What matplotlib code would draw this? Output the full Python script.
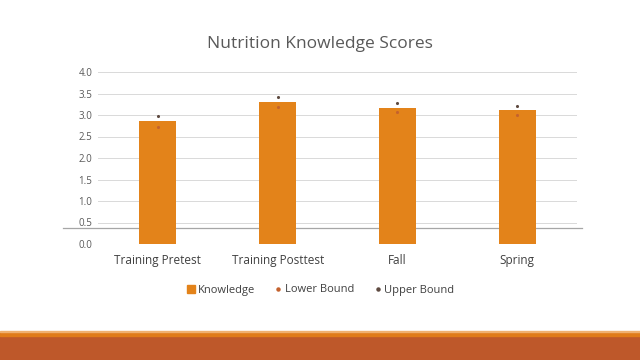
import matplotlib
matplotlib.use("Agg")
import matplotlib.pyplot as plt
from matplotlib.lines import Line2D
from matplotlib.patches import Rectangle

categories = ["Training Pretest", "Training Posttest", "Fall", "Spring"]
knowledge = [2.85, 3.31, 3.17, 3.12]
lower_bound = [2.73, 3.19, 3.06, 3.01]
upper_bound = [2.97, 3.41, 3.27, 3.22]
yticks = [0.0, 0.5, 1.0, 1.5, 2.0, 2.5, 3.0, 3.5, 4.0]

plt.rcParams['font.family'] = ['Open Sans', 'DejaVu Sans']

fig = plt.figure(figsize=(6.4, 3.6), dpi=100)
ax = fig.add_axes([98/640, 1-244/360, (577-98)/640, (244-72)/360])
ax.patch.set_visible(False)
ax.set_zorder(2)

x = list(range(len(categories)))
bar_color = '#E3831A'
ax.bar(x, knowledge, width=0.31, color=bar_color, zorder=2)
ax.scatter(x, lower_bound, s=5, color='#C4622D', zorder=3, linewidths=0)
ax.scatter(x, upper_bound, s=5, color='#5E4A40', zorder=3, linewidths=0)

ax.set_xlim(-0.5, 3.5)
ax.set_ylim(0, 4.0)
ax.set_yticks(yticks)
ax.set_yticklabels([f"{v:.1f}" for v in yticks], fontsize=7, color='#595959')
ax.set_xticks(x)
ax.set_xticklabels(categories, fontsize=8.5, color='#404040')
ax.tick_params(axis='both', length=0, pad=4)
ax.tick_params(axis='x', pad=7)
ax.grid(axis='y', color='#D9D9D9', linewidth=0.7, zorder=0)
for s in ax.spines.values():
    s.set_visible(False)

fig.text(0.5, 1-44/360, "Nutrition Knowledge Scores", ha='center', va='center',
         fontsize=12.5, color='#595959')

handles = [
    Line2D([], [], marker='s', linestyle='none', markersize=6, color=bar_color),
    Line2D([], [], marker='o', linestyle='none', markersize=2.2, color='#C4622D'),
    Line2D([], [], marker='o', linestyle='none', markersize=2.2, color='#5E4A40'),
]
fig.legend(handles, ["Knowledge", "Lower Bound", "Upper Bound"], loc='center',
           bbox_to_anchor=(0.5, 1-290/360), ncol=3, frameon=False, fontsize=8,
           handletextpad=0.1, columnspacing=1.6, labelcolor='#404040',
           handlelength=1.0)

# slide artifacts: gray horizontal rule (behind the bars) and bottom band
fig.add_artist(Line2D([63/640, 582/640], [1-228/360, 1-228/360], color='#A6A6A6',
                      linewidth=0.9, transform=fig.transFigure, zorder=1))
fig.add_artist(Rectangle((0, 0), 1, 24/360, transform=fig.transFigure,
                         color='#BE582A', zorder=0))
fig.add_artist(Rectangle((0, 24/360), 1, 4/360, transform=fig.transFigure,
                         color='#E07B19', zorder=0))
fig.add_artist(Rectangle((0, 28/360), 1, 1/360, transform=fig.transFigure,
                         color='#F0B070', zorder=0))

fig.savefig("out.png", dpi=100)
